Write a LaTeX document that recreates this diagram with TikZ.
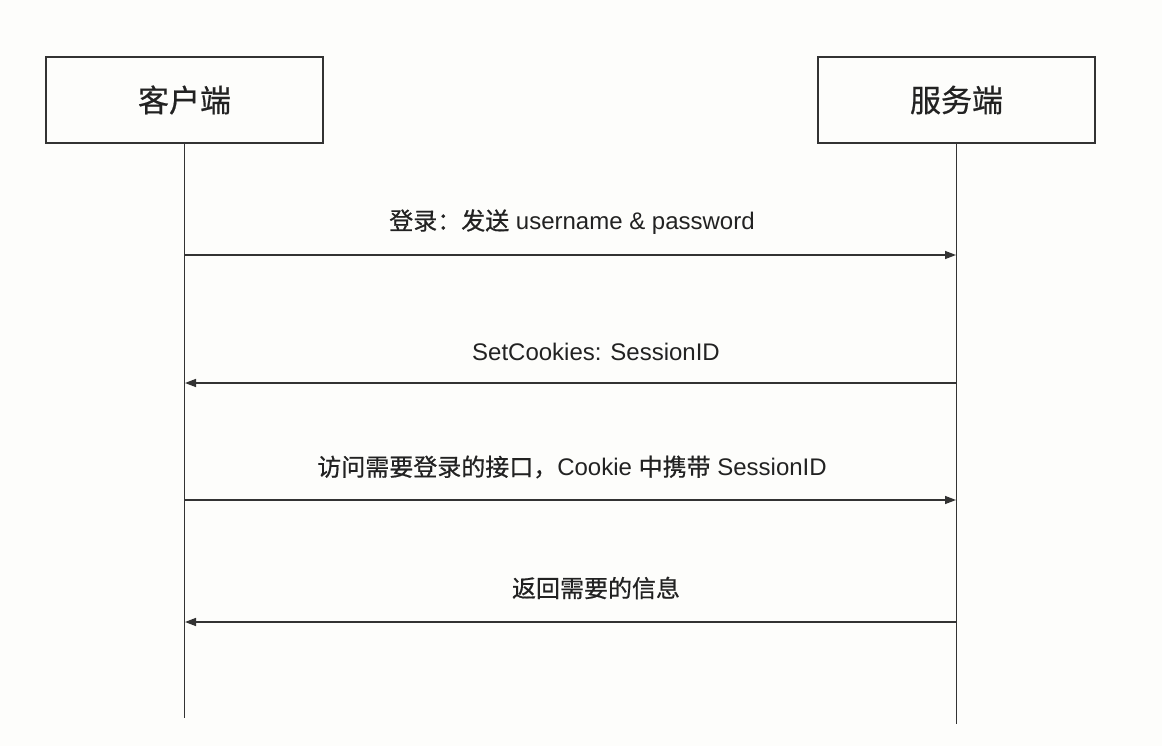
\documentclass[tikz,border=0pt]{standalone}
\usepackage{fontspec}
\setmainfont{Liberation Sans}
\newfontfamily\cjk{Noto Sans CJK SC}[FakeBold=0.6]
\usetikzlibrary{arrows.meta}
\definecolor{ink}{HTML}{333333}
\definecolor{txt}{HTML}{222222}
\definecolor{bg}{HTML}{FDFDFB}
\begin{document}
\begin{tikzpicture}[x=1pt,y=-1pt,
  actor/.style={draw=ink,line width=1.6pt,minimum width=277pt,minimum height=86pt,inner sep=0pt,font=\cjk\fontsize{31}{34}\selectfont,text=txt},
  life/.style={draw=ink,line width=1.6pt},
  msg/.style={draw=ink,line width=1.4pt,-{Triangle[length=11pt,width=8pt]}},
  lbl/.style={font=\fontsize{24}{28}\selectfont,text=txt,inner sep=0pt}]
\fill[bg] (0,0) rectangle (1162,746);
\useasboundingbox (0,0) rectangle (1162,746);
\node[actor] (c) at (184.5,100) {客户端};
\node[actor] (s) at (956.5,100) {服务端};
\coordinate (cend) at (185,718);
\coordinate (send) at (956,724);
\draw[life] (c.south) -- (c.south |- cend);
\draw[life] (s.south) -- (s.south |- send);
\coordinate (c1) at (185,255); \coordinate (s1) at (956,255);
\coordinate (c2) at (185,383); \coordinate (s2) at (956,383);
\coordinate (c3) at (185,500); \coordinate (s3) at (956,500);
\coordinate (c4) at (185,622); \coordinate (s4) at (956,622);
\draw[msg] (c1) -- (s1);
\draw[msg] (s2) -- (c2);
\draw[msg] (c3) -- (s3);
\draw[msg] (s4) -- (c4);
\node[lbl] (l1) at (572,222) {{\cjk 登录：发送} username \& password};
\node[lbl] (l2) at (596,352) {SetCookies: SessionID};
\node[lbl] (l3) at (572,467) {{\cjk 访问需要登录的接口，}Cookie {\cjk 中携带} SessionID};
\node[lbl] (l4) at (596,588) {{\cjk 返回需要的信息}};
\end{tikzpicture}
\end{document}
